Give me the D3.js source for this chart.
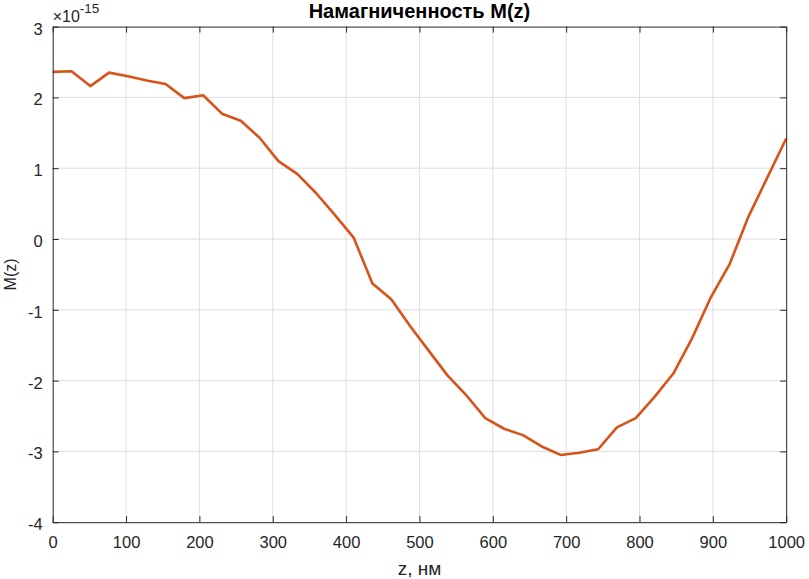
<!DOCTYPE html>
<html><head><meta charset="utf-8">
<script src="https://cdn.jsdelivr.net/npm/d3@7"></script>
<style>body{margin:0;background:#fff;} svg{display:block;font-family:"Liberation Sans",Arial,sans-serif;}</style>
</head><body>
<svg id="c" width="809" height="579"></svg>
<script>
const title = "Намагниченность M(z)";
const xLabel = "z, нм";
const yLabel = "M(z)";
const xTicks = [0,100,200,300,400,500,600,700,800,900,1000];
const yTicks = [-4,-3,-2,-1,0,1,2,3];
const zValues = d3.range(40).map(i => i*1000/39);
const mValues = [2.36,2.37,2.16,2.35,2.30,2.24,2.19,1.99,2.03,1.77,
                 1.67,1.43,1.10,0.92,0.65,0.34,0.02,-0.63,-0.85,-1.23,
                 -1.58,-1.93,-2.21,-2.53,-2.68,-2.77,-2.93,-3.05,-3.02,-2.97,
                 -2.66,-2.53,-2.23,-1.90,-1.40,-0.82,-0.35,0.32,0.87,1.42];

const svg = d3.select("#c");
const L=52.7, R=786.2, T=26.6, B=522.2;
const x = d3.scaleLinear().domain([0,1000]).range([L,R]);
const y = d3.scaleLinear().domain([-4,3]).range([B,T]);
const axisCol="#262626";

// grid
svg.append("g").selectAll("line").data(xTicks.slice(1,-1)).join("line")
  .attr("x1",d=>x(d)).attr("x2",d=>x(d)).attr("y1",T).attr("y2",B)
  .attr("stroke","#dfdfdf").attr("stroke-width",1);
svg.append("g").selectAll("line").data(yTicks.slice(1,-1)).join("line")
  .attr("y1",d=>y(d)).attr("y2",d=>y(d)).attr("x1",L).attr("x2",R)
  .attr("stroke","#dfdfdf").attr("stroke-width",1);

// line
const line = d3.line().x((d,i)=>x(zValues[i])).y(d=>y(d));
svg.append("path").datum(mValues).attr("d",line).attr("fill","none")
  .attr("stroke","#D95319").attr("stroke-width",2.6).attr("stroke-linejoin","round");

// axes (box with inward ticks)
const fmt = d => String(d);
const ax = (gen, tx, ty) => svg.append("g").attr("transform",`translate(${tx},${ty})`).call(gen);
const styleAxis = g => { g.select(".domain").attr("stroke",axisCol).attr("stroke-width",1);
  g.selectAll(".tick line").attr("stroke",axisCol);
  g.selectAll("text").attr("fill",axisCol).attr("font-size","16.5px").attr("font-family","Liberation Sans, Arial, sans-serif"); };
const gb = ax(d3.axisBottom(x).tickValues(xTicks).tickFormat(fmt).tickSizeInner(-6).tickSizeOuter(0).tickPadding(14),0,B);
styleAxis(gb);
const gl = ax(d3.axisLeft(y).tickValues(yTicks).tickFormat(fmt).tickSizeInner(-6).tickSizeOuter(0).tickPadding(10),L,0);
styleAxis(gl);
gl.selectAll("text").attr("dy","0.45em");
const gt = ax(d3.axisTop(x).tickValues(xTicks).tickFormat("").tickSizeInner(-6).tickSizeOuter(0),0,T);
styleAxis(gt);
const gr = ax(d3.axisRight(y).tickValues(yTicks).tickFormat("").tickSizeInner(-6).tickSizeOuter(0),R,0);
styleAxis(gr);

// exponent
const ex = svg.append("text").attr("x",L).attr("y",22).attr("fill",axisCol).attr("font-size","16px");
ex.append("tspan").text("×10");
ex.append("tspan").attr("dy",-9).attr("font-size","13.5px").text("-15");

// title
svg.append("text").attr("x",(L+R)/2).attr("y",18).attr("text-anchor","middle")
  .attr("font-weight","bold").attr("font-size","20px").attr("fill","#000").text(title);
// labels
svg.append("text").attr("x",(L+R)/2).attr("y",575).attr("text-anchor","middle")
  .attr("font-size","19px").attr("fill",axisCol).text(xLabel);
svg.append("text").attr("transform",`translate(16,${(T+B)/2}) rotate(-90)`).attr("text-anchor","middle")
  .attr("font-size","16px").attr("fill",axisCol).text(yLabel);
</script>
</body></html>
